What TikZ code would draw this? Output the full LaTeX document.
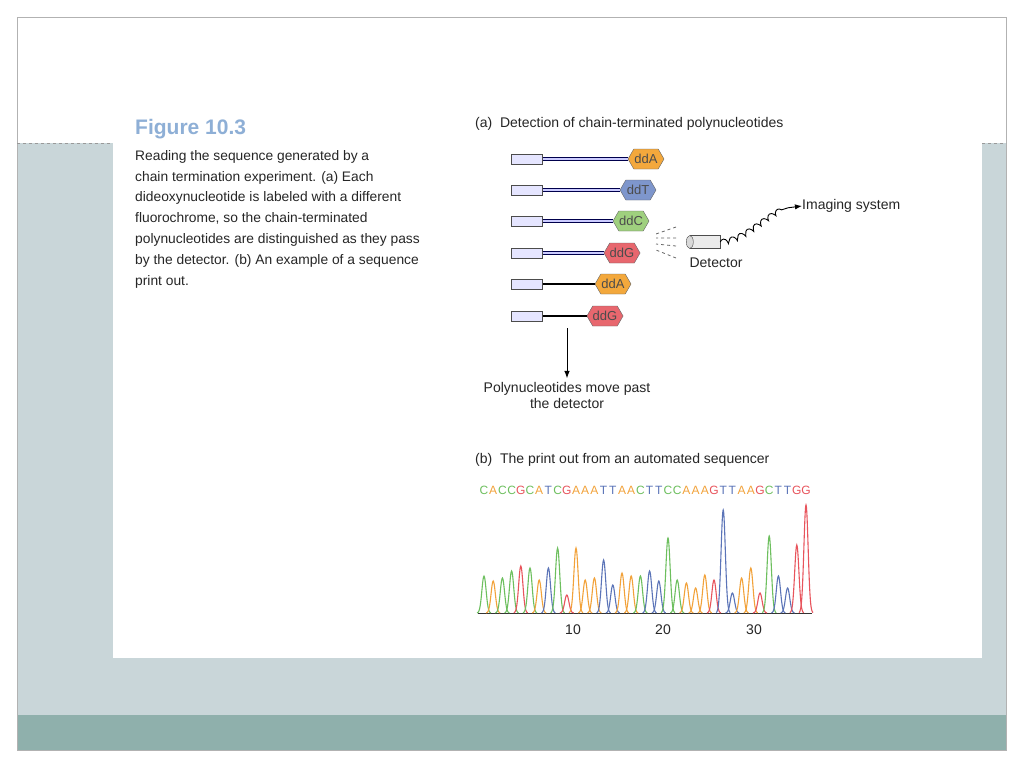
\documentclass[tikz,border=0pt]{standalone}
\usepackage{fontspec}
\setmainfont{Liberation Sans}
\usetikzlibrary{shapes.symbols,decorations.pathmorphing,arrows.meta}
\definecolor{frame}{HTML}{C9D6D9}
\definecolor{bar}{HTML}{8FB0AC}
\definecolor{figblue}{HTML}{8EAFD6}
\definecolor{bC}{HTML}{6DBF5E}
\definecolor{bA}{HTML}{F2A23A}
\definecolor{bG}{HTML}{E8545C}
\definecolor{bT}{HTML}{5B74B8}
\definecolor{hexA}{HTML}{F3A83C}
\definecolor{hexT}{HTML}{7E96CC}
\definecolor{hexC}{HTML}{9FD07E}
\definecolor{hexG}{HTML}{E8676E}
\begin{document}
\begin{tikzpicture}[x=1pt,y=-1pt,>=Latex,
every node/.style={font=\fontsize{14}{16}\selectfont,text=black!85},
primer/.style={draw=black!70,fill=blue!10,minimum width=31pt,minimum height=10pt,inner sep=0pt},
hexa/.style={draw=black!60,fill=#1,signal,signal to=west and east,signal pointer angle=120,
  minimum width=36pt,minimum height=20pt,inner sep=0pt,font=\fontsize{13}{13}\selectfont,text=black!70},
strand/.style={double=blue!20,draw=blue!30!black,double distance=1.2pt,line width=1pt},
bare/.style={line width=2pt},
peak/.style={line width=1.1pt}]

% background
\useasboundingbox (0,0) rectangle (1024,768);
\fill[white] (0,0) rectangle (1024,768);
\fill[frame] (17,143) rectangle (1006,715);
\fill[bar] (17,715) rectangle (1006,750);
\draw[black!30] (17,17) rectangle (1006,750);
\draw[black!40,dashed] (17,143) -- (113,143) (982,143) -- (1006,143);
\fill[white] (113,143) rectangle (982,658);

% caption
\node[anchor=west,inner sep=0pt,text=figblue,font=\fontsize{21}{21}\selectfont\bfseries] (fig) at (135,129) {Figure 10.3};
\node[anchor=north west,align=left,inner sep=0pt,font=\fontsize{13.8}{20.8}\selectfont] (cap) at (135,150)
 {Reading the sequence generated by a\\chain termination experiment. (a) Each\\dideoxynucleotide is labeled with a different\\fluorochrome, so the chain-terminated\\polynucleotides are distinguished as they pass\\by the detector. (b) An example of a sequence\\print out.};

% (a)
\node[anchor=west,inner sep=0pt] (ta) at (475,124) {(a)\ \ Detection of chain-terminated polynucleotides};
\foreach \y/\hx/\c/\t/\s [count=\i] in {159/646/hexA/ddA/strand, 190/638/hexT/ddT/strand,
  221/631/hexC/ddC/strand, 253/622/hexG/ddG/strand, 284/613/hexA/ddA/bare, 316/605/hexG/ddG/bare}{
  \node[primer] (p\i) at (527,\y) {};
  \node[hexa=\c] (h\i) at (\hx,\y) {\t};
  \draw[\s] (p\i.east) -- (h\i.west);
}
\coordinate (mv) at (567,328);
\node[align=center,font=\fontsize{14}{16}\selectfont] (move) at (567,395) {Polynucleotides move past\\the detector};
\draw[->,line width=1pt] (mv) -- (move.north);

% detector
\node[draw=black!70,fill=black!8,minimum width=30pt,minimum height=13pt,inner sep=0pt] (det) at (705,242) {};
\draw[draw=black!70,fill=black!15] (det.west) ellipse (3.5pt and 6.5pt);
\node (detl) at (716,263) {Detector};
\node[anchor=west,inner sep=0pt] (img) at (802,206) {Imaging system};
\draw[black!60,dashed,line width=.8pt] (676,227) -- (656,234) (676,238) -- (656,238) (676,246) -- (656,244) (676,258) -- (656,250);
\draw[->,line width=.9pt,decorate,decoration={coil,aspect=.5,segment length=9pt,amplitude=2.5pt,post length=14pt}]
 (det.east) .. controls (755,238) and (770,205) .. (img.west);

% (b)
\node[anchor=west,inner sep=0pt] (tb) at (475,460) {(b)\ \ The print out from an automated sequencer};
\draw[black!80,line width=1pt] (478,613) -- (812,613);
\foreach \b/\h [count=\i] in {C/37,A/32,C/35,C/42,G/47,C/45,A/33,T/45,C/65,G/18,
  A/65,A/33,A/35,T/53,T/28,A/40,A/37,C/37,T/42,T/32,
  C/75,C/33,A/30,A/25,A/38,G/33,T/103,T/20,A/35,A/45,
  G/20,C/77,T/37,T/25,G/68,G/108}{
  \pgfmathsetmacro{\xp}{484+(\i-1)*9.2}
  \node[text=b\b,font=\fontsize{12}{12}\selectfont,inner sep=0pt] (s\i) at (\xp,490) {\b};
  \draw[peak,b\b] plot[domain=-7:7,samples=29,smooth] ({\xp+\x},{613-\h*exp(-\x*\x/9)});
}
\foreach \n/\xn in {10/573,20/663,30/754}
  \node (ax\n) at (\xn,630) {\n};
\end{tikzpicture}
\end{document}
